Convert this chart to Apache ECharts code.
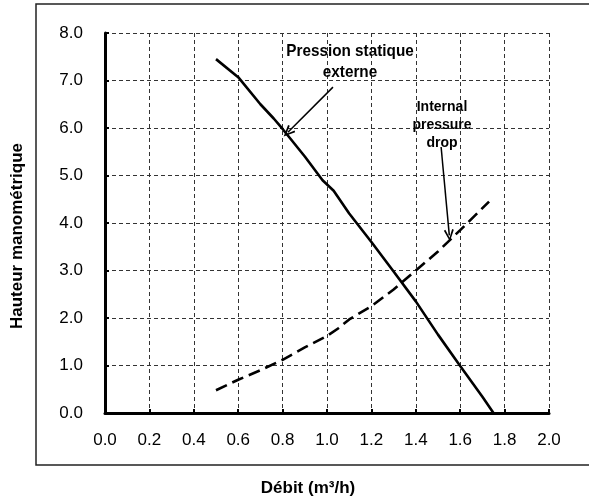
<!DOCTYPE html>
<html>
<head>
<meta charset="utf-8">
<script src="https://cdn.jsdelivr.net/npm/echarts@6/dist/echarts.min.js"></script>
<style>
html,body{margin:0;padding:0;background:#fff;}
#chart{width:589px;height:503px;}
</style>
</head>
<body>
<div id="chart"></div>
<script>
// Pression statique externe (solid)
var staticX = [0.5, 0.6, 0.7, 0.76, 0.8, 0.9, 0.98, 1.03, 1.1, 1.2, 1.3, 1.4, 1.5, 1.6, 1.7, 1.75];
var staticY = [7.45, 7.07, 6.5, 6.2, 5.98, 5.4, 4.9, 4.68, 4.2, 3.6, 2.98, 2.35, 1.65, 0.99, 0.34, 0.0];
// Internal pressure drop (dashed)
var dropX = [0.5, 0.6, 0.7, 0.8, 0.9, 1.0, 1.05, 1.1, 1.2, 1.3, 1.4, 1.5, 1.6, 1.73];
var dropY = [0.48, 0.7, 0.9, 1.12, 1.38, 1.62, 1.78, 1.97, 2.25, 2.6, 3.0, 3.4, 3.85, 4.45];
// axis ticks
var xMin = 0, xMax = 2, xStep = 0.2;
var yMin = 0, yMax = 8, yStep = 1;
// annotation labels and arrows (data coordinates)
var label1 = 'Pression statique\nexterne';
var label2 = 'Internal\npressure\ndrop';
var arrow1 = [[1.027, 6.86], [0.824, 5.91]];
var arrow2 = [[1.514, 5.60], [1.551, 3.74]];
var xName = 'Débit (m³/h)';
var yName = 'Hauteur manométrique';

function pairs(xs, ys){ return xs.map(function(x,i){ return [x, ys[i]]; }); }

var FONT = '"Liberation Sans", Arial, sans-serif';
var chevron = 'path://M5,0 L0,11 L1.6,11.8 L5,3.6 L8.4,11.8 L10,11 Z';

function arrowData(a){
  return [{coord: a[0], symbol: 'none'}, {coord: a[1], symbol: chevron, symbolSize: [10, 12]}];
}

var chart = echarts.init(document.getElementById('chart'), null, {renderer: 'canvas'});
chart.setOption({
  animation: false,
  backgroundColor: '#fff',
  grid: {left: 105, right: 40, top: 33, bottom: 90, containLabel: false},
  xAxis: {
    type: 'value', min: xMin, max: xMax, interval: xStep,
    axisLine: {show: true, onZero: false, lineStyle: {color: '#000', width: 3}},
    axisTick: {show: true, inside: true, length: 4, lineStyle: {color: '#000', width: 2}},
    axisLabel: {fontFamily: FONT, fontSize: 17, color: '#000', margin: 19,
      formatter: function(v){ return v.toFixed(1); }},
    splitLine: {show: true, lineStyle: {color: '#333', width: 1, type: [4, 3]}}
  },
  yAxis: {
    type: 'value', min: yMin, max: yMax, interval: yStep,
    axisLine: {show: true, onZero: false, lineStyle: {color: '#000', width: 3}},
    axisTick: {show: true, inside: true, length: 4, lineStyle: {color: '#000', width: 2}},
    axisLabel: {fontFamily: FONT, fontSize: 17, color: '#000', margin: 22,
      formatter: function(v){ return v.toFixed(1); }},
    splitLine: {show: true, lineStyle: {color: '#333', width: 1, type: [4, 3]}}
  },
  series: [
    {
      type: 'line', data: pairs(staticX, staticY), showSymbol: false, symbol: 'none',
      lineStyle: {color: '#000', width: 2.6}, z: 5,
      markLine: {
        silent: true, animation: false, label: {show: false},
        lineStyle: {color: '#000', width: 1.5, type: 'solid'},
        emphasis: {disabled: true},
        data: [arrowData(arrow1), arrowData(arrow2)]
      }
    },
    {
      type: 'line', data: pairs(dropX, dropY), showSymbol: false, symbol: 'none',
      lineStyle: {color: '#000', width: 2.6, type: [12, 6]}, z: 5
    }
  ],
  graphic: [
    {type: 'rect', shape: {x: 36, y: 4, width: 600, height: 461}, style: {fill: null, stroke: '#222', lineWidth: 1.5}, z: -1, silent: true},
    {type: 'text', x: 350, y: 62, scaleX: 0.9, style: {text: label1, font: 'bold 17px "Liberation Sans", Arial, sans-serif', fill: '#000', align: 'center', verticalAlign: 'middle', lineHeight: 21}, z: 10},
    {type: 'text', x: 442, y: 125, style: {text: label2, font: 'bold 14px "Liberation Sans", Arial, sans-serif', fill: '#000', align: 'center', verticalAlign: 'middle', lineHeight: 18}, z: 10},
    {type: 'text', x: 308, y: 488, style: {text: xName, font: 'bold 17px "Liberation Sans", Arial, sans-serif', fill: '#000', align: 'center', verticalAlign: 'middle'}, z: 10},
    {type: 'text', x: 17, y: 236, rotation: Math.PI / 2, style: {text: yName, font: 'bold 17px "Liberation Sans", Arial, sans-serif', fill: '#000', align: 'center', verticalAlign: 'middle'}, z: 10}
  ]
});
</script>
</body>
</html>
